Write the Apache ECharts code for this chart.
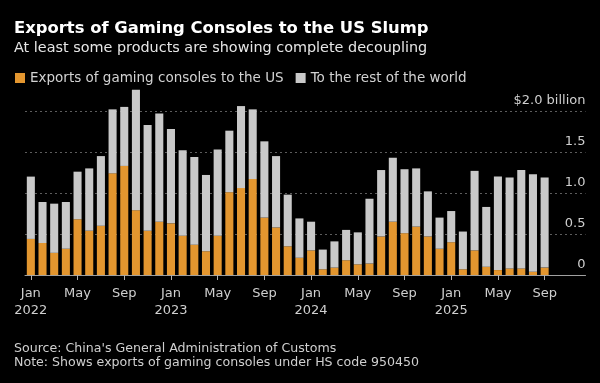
<!DOCTYPE html>
<html><head><meta charset="utf-8">
<script src="https://cdn.jsdelivr.net/npm/echarts@6/dist/echarts.min.js"></script>
<style>html,body{margin:0;padding:0;background:#000}#c{width:600px;height:383px}</style>
</head><body><div id="c"></div>
<script>
const categories = [
 'Jan 2022','Feb 2022','Mar 2022','Apr 2022','May 2022','Jun 2022','Jul 2022','Aug 2022','Sep 2022','Oct 2022','Nov 2022','Dec 2022',
 'Jan 2023','Feb 2023','Mar 2023','Apr 2023','May 2023','Jun 2023','Jul 2023','Aug 2023','Sep 2023','Oct 2023','Nov 2023','Dec 2023',
 'Jan 2024','Feb 2024','Mar 2024','Apr 2024','May 2024','Jun 2024','Jul 2024','Aug 2024','Sep 2024','Oct 2024','Nov 2024','Dec 2024',
 'Jan 2025','Feb 2025','Mar 2025','Apr 2025','May 2025','Jun 2025','Jul 2025','Aug 2025','Sep 2025','Oct 2025','Nov 2025','Dec 2025'
];
// $ billion, exports to the US
const usExports = [
 0.44,0.39,0.27,0.32,0.68,0.54,0.60,1.24,1.33,0.79,0.54,0.65,
 0.63,0.48,0.37,0.29,0.48,1.01,1.06,1.17,0.70,0.58,0.35,0.21,
 0.30,0.07,0.09,0.18,0.13,0.14,0.47,0.65,0.51,0.59,0.47,0.32,
 0.40,0.07,0.30,0.10,0.06,0.08,0.08,0.04,0.09
];
// $ billion, exports to the rest of the world
const restExports = [
 0.76,0.50,0.60,0.57,0.58,0.76,0.85,0.78,0.72,1.47,1.29,1.32,
 1.15,1.04,1.07,0.93,1.05,0.75,1.00,0.85,0.93,0.87,0.63,0.48,
 0.35,0.24,0.32,0.37,0.39,0.79,0.81,0.78,0.78,0.71,0.55,0.38,
 0.38,0.46,0.97,0.73,1.14,1.11,1.20,1.19,1.10
];
const seriesNames = ['Exports of gaming consoles to the US', 'To the rest of the world'];
const yTicks = [0, 0.5, 1.0, 1.5, 2.0];
const titleText = 'Exports of Gaming Consoles to the US Slump';
const subtitleText = 'At least some products are showing complete decoupling';
const sourceText = "Source: China's General Administration of Customs";
const noteText = 'Note: Shows exports of gaming consoles under HS code 950450';

const FONT = '"DejaVu Sans", sans-serif';
const chart = echarts.init(document.getElementById('c'));
chart.setOption({
  backgroundColor: '#000',
  animation: false,
  textStyle: {fontFamily: FONT},
  grid: {left: 25, right: 14.5, top: 86.4, bottom: 108},
  legend: {
    data: seriesNames, left: 15, top: 71, padding: 0, icon: 'rect', itemWidth: 10, itemHeight: 10,
    itemGap: 12, textStyle: {color: '#d2d2d2', fontSize: 13.5, fontFamily: FONT}
  },
  graphic: [
    {type: 'text', left: 14, top: 21, style: {text: titleText, fill: '#ffffff', font: 'bold 16.4px ' + FONT}},
    {type: 'text', left: 14, top: 41, style: {text: subtitleText, fill: '#e6e6e6', font: '14.4px ' + FONT}},
    {type: 'text', left: 14, top: 342, style: {text: sourceText, fill: '#cfcfcf', font: '12.6px ' + FONT}},
    {type: 'text', left: 14, top: 356.5, style: {text: noteText, fill: '#cfcfcf', font: '12.6px ' + FONT}}
  ],
  xAxis: {
    type: 'category', data: categories, boundaryGap: true,
    axisLine: {show: true, lineStyle: {color: '#a0a0a0', width: 1}},
    axisTick: {show: true, interval: 3, alignWithLabel: true, length: 5, lineStyle: {color: '#b0b0b0'}},
    axisLabel: {
      interval: 3, color: '#cfcfcf', fontSize: 13, lineHeight: 17, margin: 10, fontFamily: FONT,
      formatter: function (v) { const p = v.split(' '); return p[0] === 'Jan' ? p[0] + '\n' + p[1] : p[0]; }
    }
  },
  yAxis: {
    type: 'value', position: 'right', min: 0, max: 2.3, interval: 0.5,
    axisLine: {show: false}, axisTick: {show: false},
    splitLine: {show: true, showMaxLine: false, lineStyle: {color: '#5c5c5c', type: [2, 3], width: 1}},
    axisLabel: {
      inside: true, margin: 0, verticalAlign: 'bottom', padding: [0, 0, 4, 0], color: '#cfcfcf',
      fontSize: 13, fontFamily: FONT, showMaxLabel: false,
      formatter: function (v) {
        if (yTicks.indexOf(v) < 0) return '';
        if (v === 0) return '0';
        if (v === 2) return '$2.0 billion';
        return v.toFixed(1);
      }
    }
  },
  series: [
    {name: seriesNames[0], type: 'bar', stack: 'total', data: usExports, barWidth: '69%',
     itemStyle: {color: '#e3962f'}},
    {name: seriesNames[1], type: 'bar', stack: 'total', data: restExports, barWidth: '69%',
     itemStyle: {color: '#c9c9c9'}}
  ]
});
</script></body></html>
